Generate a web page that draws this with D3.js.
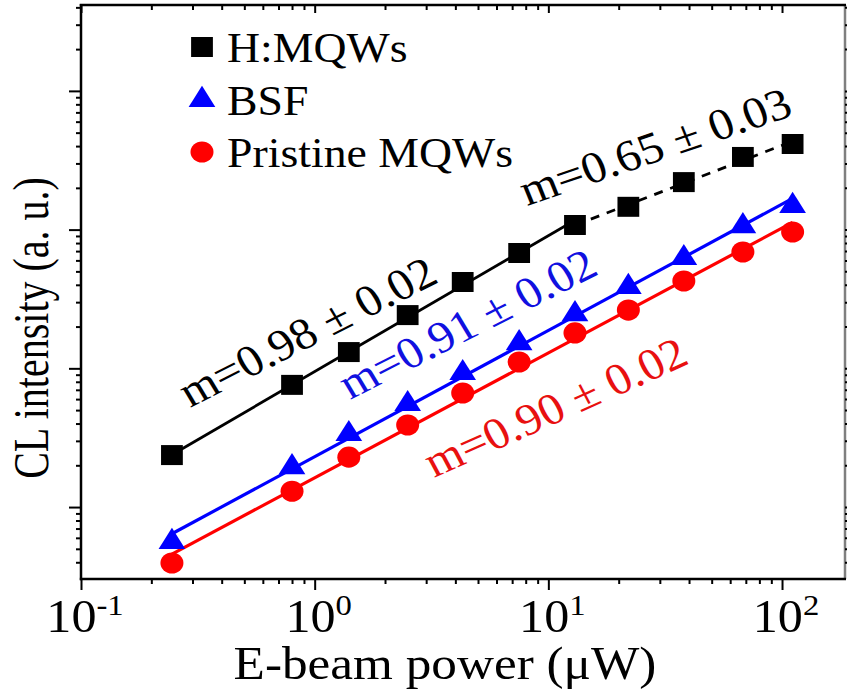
<!DOCTYPE html>
<html>
<head>
<meta charset="utf-8">
<script src="https://cdn.jsdelivr.net/npm/d3@7/dist/d3.min.js"></script>
<style>
  html, body { margin: 0; padding: 0; background: #fff; }
  svg { display: block; }
  text { font-family: "Liberation Serif", "Times New Roman", serif; }
</style>
</head>
<body>
<svg id="chart" width="847" height="689"></svg>
<script>
// E-beam power (µW) and CL intensity (a.u.) for the three samples
const power    = [0.245, 0.8, 1.4, 2.5, 4.3, 7.5, 13, 22, 38, 68, 111];
const hMQWs    = [2.37, 7.6, 13.1, 24.2, 41.9, 67.8, 108, 146, 220, 334, 414];
const bsf      = [0.56, 1.94, 3.36, 5.53, 9.25, 15.2, 24.6, 38.6, 62.4, 106, 148];
const pristine = [0.395, 1.30, 2.29, 3.90, 6.64, 11.1, 18.0, 26.3, 42.6, 68.9, 96.1];

// power-law exponents of the fits (I ∝ P^m)
const slopeHLow = 0.98, slopeHHigh = 0.65, slopeBSF = 0.91, slopePristine = 0.90;
const slopeTexts = ["m=0.98 \u00b1 0.02", "m=0.65 \u00b1 0.03", "m=0.91 \u00b1 0.02", "m=0.90 \u00b1 0.02"];

const legendNames = ["H:MQWs", "BSF", "Pristine MQWs"];
const xMajorTicks = [0.1, 1, 10, 100];
const xTickExp = ["-1", "0", "1", "2"];
const yMajorTicks = [1, 10, 100, 1000];

const SX = 1.09; // horizontal stretch of glyphs and symbols
const svg = d3.select("#chart");
const L = 81, R = 845, T = 5, B = 579;

const x = d3.scaleLog().domain([0.1, 186]).range([L, R]);
const y = d3.scaleLog().domain([0.303, 4160]).range([B, T]);

function minors(lo, hi) {
  const out = [];
  for (let e = -3; e <= 5; e++) {
    for (let k = 2; k <= 9; k++) {
      const v = k * Math.pow(10, e);
      if (v > lo * 1.0001 && v < hi * 0.9999) out.push(v);
    }
  }
  return out;
}
const xMinor = minors(0.1, 186);
const yMinor = minors(0.303, 4160);

function drawAxis(axisFn, scale, vals, size, transform) {
  const g = svg.append("g").attr("transform", transform)
    .call(axisFn(scale).tickValues(vals).tickSize(size).tickFormat(""));
  g.select(".domain").remove();
  g.selectAll(".tick line").attr("stroke", "#000").attr("stroke-width", 2);
  return g;
}
// bottom & left: outward ticks
drawAxis(d3.axisBottom, x, xMajorTicks, 11, `translate(0,${B})`);
drawAxis(d3.axisBottom, x, xMinor, 5, `translate(0,${B})`);
drawAxis(d3.axisLeft, y, yMajorTicks, 12, `translate(${L},0)`);
drawAxis(d3.axisLeft, y, yMinor, 5, `translate(${L},0)`);
// top: inward ticks
drawAxis(d3.axisBottom, x, xMajorTicks, 8, `translate(0,${T})`);
drawAxis(d3.axisBottom, x, xMinor, 5, `translate(0,${T})`);
// right: outward ticks
drawAxis(d3.axisRight, y, yMajorTicks, 10, `translate(${R},0)`);
drawAxis(d3.axisRight, y, yMinor, 5, `translate(${R},0)`);

// frame
const frame = svg.append("g").attr("stroke", "#000").attr("stroke-width", 2.5);
frame.append("line").attr("x1", L).attr("x2", L).attr("y1", T - 1).attr("y2", B + 1.2);
frame.append("line").attr("x1", L - 1.2).attr("x2", R + 1).attr("y1", B).attr("y2", B);
frame.append("line").attr("x1", L - 1.2).attr("x2", R + 1).attr("y1", T).attr("y2", T);
frame.append("line").attr("x1", R).attr("x2", R).attr("y1", T).attr("y2", B).attr("stroke-opacity", 0.5);

// x tick labels
xMajorTicks.forEach((v, i) => {
  const t = svg.append("text")
    .attr("transform", `translate(${x(v) + 4},632) scale(${SX},1)`)
    .attr("text-anchor", "middle").attr("font-size", 46).attr("fill", "#000");
  t.append("tspan").text("10");
  t.append("tspan").attr("font-size", 30).attr("dy", -17).text(xTickExp[i]);
});

// axis titles
svg.append("text")
  .attr("transform", `translate(445,679) scale(${SX},1)`)
  .attr("text-anchor", "middle").attr("font-size", 47).attr("fill", "#000")
  .text("E-beam power (\u03bcW)");
svg.append("text")
  .attr("transform", `translate(48,328) scale(1.25,1) rotate(-90)`)
  .attr("text-anchor", "middle").attr("font-size", 40).attr("fill", "#000")
  .text("CL intensity (a. u.)");

// fitted power-law lines: fixed exponent, intercept from the mean of log data
function fitLine(xs, ys, m) {
  const lx = xs.map(Math.log10), ly = ys.map(Math.log10);
  const b = d3.mean(ly) - m * d3.mean(lx);
  return [xs[0], xs[xs.length - 1]].map(v => [v, Math.pow(10, b + m * Math.log10(v))]);
}
const line = d3.line().x(d => x(d[0])).y(d => y(d[1]));
const lines = svg.append("g").attr("fill", "none");
lines.append("path").attr("d", line(fitLine(power.slice(0, 7), hMQWs.slice(0, 7), slopeHLow)))
  .attr("stroke", "#000").attr("stroke-width", 2.8);
lines.append("path").attr("d", line(fitLine(power.slice(6), hMQWs.slice(6), slopeHHigh)))
  .attr("stroke", "#000").attr("stroke-width", 2.8).attr("stroke-dasharray", "9,8");
lines.append("path").attr("d", line(fitLine(power, bsf, slopeBSF)))
  .attr("stroke", "#0000ff").attr("stroke-width", 3.2);
lines.append("path").attr("d", line(fitLine(power, pristine, slopePristine)))
  .attr("stroke", "#ff0000").attr("stroke-width", 3.2);

// markers
const series = [
  { vals: hMQWs, color: "#000", sym: d3.symbol(d3.symbolSquare, 400) },
  { vals: bsf, color: "#0000ff", sym: d3.symbol(d3.symbolTriangle, 260) },
  { vals: pristine, color: "#ff0000", sym: d3.symbol(d3.symbolCircle, 350) }
];
series.forEach(s => {
  svg.append("g").selectAll("path").data(power).join("path")
    .attr("d", s.sym())
    .attr("transform", (d, i) => `translate(${x(d)},${y(s.vals[i])}) scale(${SX},1)`)
    .attr("fill", s.color);
});

// legend
const legend = svg.append("g");
const legendY = [47, 100, 152];
series.forEach((s, i) => {
  legend.append("path").attr("d", s.sym())
    .attr("transform", `translate(202,${legendY[i]}) scale(${SX},1)`)
    .attr("fill", s.color);
  legend.append("text")
    .attr("transform", `translate(227,${legendY[i] + 15}) scale(${SX},1)`)
    .attr("font-size", 42).attr("fill", "#000").text(legendNames[i]);
});

// slope annotations (angle given as seen on screen; glyphs share the horizontal stretch)
const notes = [
  { t: slopeTexts[0], px: 190, py: 408, a: 31, c: "#000" },
  { t: slopeTexts[1], px: 527, py: 206, a: 22, c: "#000" },
  { t: slopeTexts[2], px: 350, py: 400, a: 31, c: "#1010e0" },
  { t: slopeTexts[3], px: 434, py: 478, a: 28, c: "#e81010" }
];
notes.forEach(n => {
  const a0 = Math.atan(Math.tan(n.a * Math.PI / 180) / SX) * 180 / Math.PI;
  svg.append("text")
    .attr("transform", `translate(${n.px},${n.py}) scale(${SX},1) rotate(${-a0})`)
    .attr("font-size", 44.5).attr("fill", n.c).text(n.t);
});
</script>
</body>
</html>
